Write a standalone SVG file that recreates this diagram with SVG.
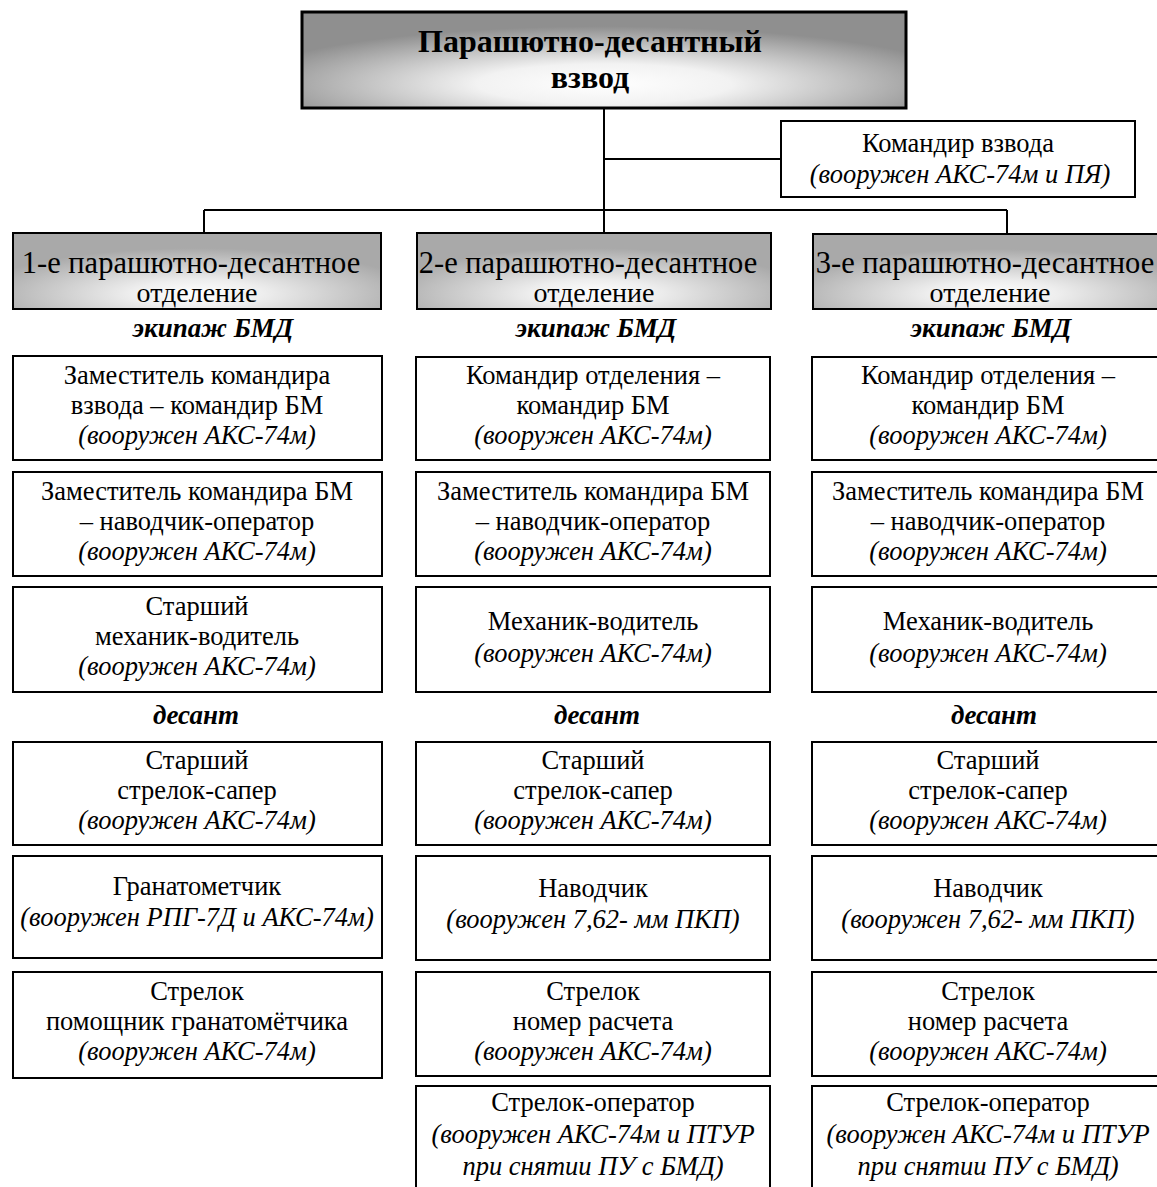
<svg xmlns="http://www.w3.org/2000/svg" width="1157" height="1187" viewBox="0 0 1157 1187">
<defs>
<radialGradient id="gTop" cx="50%" cy="75%" r="60%">
<stop offset="0" stop-color="#ffffff"/>
<stop offset="0.35" stop-color="#f2f2f2"/>
<stop offset="1" stop-color="#8f8f8f"/>
</radialGradient>
<radialGradient id="gHead" cx="50%" cy="80%" r="60%">
<stop offset="0" stop-color="#ffffff"/>
<stop offset="0.3" stop-color="#eeeeee"/>
<stop offset="1" stop-color="#a9a9a9"/>
</radialGradient>
</defs>
<style>
text{font-family:"Liberation Serif","Times New Roman",serif;fill:#000;text-anchor:middle}
.b{font-size:26.5px}
.i{font-size:26.5px;font-style:italic}
.h{font-size:28px}
.h1{font-size:30.5px}
.t{font-size:32px;font-weight:bold}
.s{font-size:27px;font-weight:bold;font-style:italic}
.box{fill:#fff;stroke:#000;stroke-width:2}
.head{fill:url(#gHead);stroke:#000;stroke-width:2}
.top{fill:url(#gTop);stroke:#000;stroke-width:3}
.conn{fill:none;stroke:#000;stroke-width:2}
</style>
<rect width="1157" height="1187" fill="#fff"/>
<g id="connectors">
<path class="conn" d="M604 108V233M604 159H781M204 210H1007M204 210V233M1007 210V234"/>
</g>
<g id="n-platoon">
<rect class="top" x="302" y="12" width="604" height="96"/>
<text class="t" x="590" y="52">Парашютно-десантный</text>
<text class="t" x="590" y="88">взвод</text>
</g>
<g id="n-commander">
<rect class="box" x="781" y="121" width="354" height="76"/>
<text class="b" x="958" y="152">Командир взвода</text>
<text class="i" x="960" y="183">(вооружен АКС-74м и ПЯ)</text>
</g>
<g id="n-sq1">
<rect class="head" x="13" y="233" width="368" height="76"/>
<text class="h1" x="191" y="273">1-е парашютно-десантное</text>
<text class="h" x="197" y="302">отделение</text>
</g>
<g id="n-sq2">
<rect class="head" x="417" y="233" width="354" height="76"/>
<text class="h1" x="588" y="273">2-е парашютно-десантное</text>
<text class="h" x="594" y="302">отделение</text>
</g>
<g id="n-sq3">
<rect class="head" x="813" y="234" width="360" height="75"/>
<text class="h1" x="985" y="273">3-е парашютно-десантное</text>
<text class="h" x="990" y="302">отделение</text>
</g>
<g id="labels">
<text class="s" x="213" y="337">экипаж БМД</text>
<text class="s" x="596" y="337">экипаж БМД</text>
<text class="s" x="991" y="337">экипаж БМД</text>
<text class="s" x="196" y="724">десант</text>
<text class="s" x="597" y="724">десант</text>
<text class="s" x="994" y="724">десант</text>
</g>
<g id="n-1-1">
<rect class="box" x="13" y="356" width="369" height="104"/>
<text class="b" x="197" y="384">Заместитель командира</text>
<text class="b" x="197" y="414">взвода – командир БМ</text>
<text class="i" x="197" y="444">(вооружен АКС-74м)</text>
</g>
<g id="n-1-2">
<rect class="box" x="13" y="472" width="369" height="104"/>
<text class="b" x="197" y="500">Заместитель командира БМ</text>
<text class="b" x="197" y="530">– наводчик-оператор</text>
<text class="i" x="197" y="560">(вооружен АКС-74м)</text>
</g>
<g id="n-1-3">
<rect class="box" x="13" y="587" width="369" height="105"/>
<text class="b" x="197" y="615">Старший</text>
<text class="b" x="197" y="645">механик-водитель</text>
<text class="i" x="197" y="675">(вооружен АКС-74м)</text>
</g>
<g id="n-1-4">
<rect class="box" x="13" y="742" width="369" height="103"/>
<text class="b" x="197" y="769">Старший</text>
<text class="b" x="197" y="799">стрелок-сапер</text>
<text class="i" x="197" y="829">(вооружен АКС-74м)</text>
</g>
<g id="n-1-5">
<rect class="box" x="13" y="856" width="369" height="102"/>
<text class="b" x="197" y="895">Гранатометчик</text>
<text class="i" x="197" y="926">(вооружен РПГ-7Д и АКС-74м)</text>
</g>
<g id="n-1-6">
<rect class="box" x="13" y="972" width="369" height="106"/>
<text class="b" x="197" y="1000">Стрелок</text>
<text class="b" x="197" y="1030">помощник гранатомётчика</text>
<text class="i" x="197" y="1060">(вооружен АКС-74м)</text>
</g>
<g id="n-2-1">
<rect class="box" x="416" y="357" width="354" height="103"/>
<text class="b" x="593" y="384">Командир отделения –</text>
<text class="b" x="593" y="414">командир БМ</text>
<text class="i" x="593" y="444">(вооружен АКС-74м)</text>
</g>
<g id="n-2-2">
<rect class="box" x="416" y="472" width="354" height="104"/>
<text class="b" x="593" y="500">Заместитель командира БМ</text>
<text class="b" x="593" y="530">– наводчик-оператор</text>
<text class="i" x="593" y="560">(вооружен АКС-74м)</text>
</g>
<g id="n-2-3">
<rect class="box" x="416" y="587" width="354" height="105"/>
<text class="b" x="593" y="630">Механик-водитель</text>
<text class="i" x="593" y="662">(вооружен АКС-74м)</text>
</g>
<g id="n-2-4">
<rect class="box" x="416" y="742" width="354" height="103"/>
<text class="b" x="593" y="769">Старший</text>
<text class="b" x="593" y="799">стрелок-сапер</text>
<text class="i" x="593" y="829">(вооружен АКС-74м)</text>
</g>
<g id="n-2-5">
<rect class="box" x="416" y="856" width="354" height="104"/>
<text class="b" x="593" y="897">Наводчик</text>
<text class="i" x="593" y="928">(вооружен 7,62- мм ПКП)</text>
</g>
<g id="n-2-6">
<rect class="box" x="416" y="972" width="354" height="104"/>
<text class="b" x="593" y="1000">Стрелок</text>
<text class="b" x="593" y="1030">номер расчета</text>
<text class="i" x="593" y="1060">(вооружен АКС-74м)</text>
</g>
<g id="n-2-7">
<rect class="box" x="416" y="1086" width="354" height="110"/>
<text class="b" x="593" y="1111">Стрелок-оператор</text>
<text class="i" x="593" y="1143">(вооружен АКС-74м и ПТУР</text>
<text class="i" x="593" y="1175">при снятии ПУ с БМД)</text>
</g>
<g id="n-3-1">
<rect class="box" x="812" y="357" width="354" height="103"/>
<text class="b" x="988" y="384">Командир отделения –</text>
<text class="b" x="988" y="414">командир БМ</text>
<text class="i" x="988" y="444">(вооружен АКС-74м)</text>
</g>
<g id="n-3-2">
<rect class="box" x="812" y="472" width="354" height="104"/>
<text class="b" x="988" y="500">Заместитель командира БМ</text>
<text class="b" x="988" y="530">– наводчик-оператор</text>
<text class="i" x="988" y="560">(вооружен АКС-74м)</text>
</g>
<g id="n-3-3">
<rect class="box" x="812" y="587" width="354" height="105"/>
<text class="b" x="988" y="630">Механик-водитель</text>
<text class="i" x="988" y="662">(вооружен АКС-74м)</text>
</g>
<g id="n-3-4">
<rect class="box" x="812" y="742" width="354" height="103"/>
<text class="b" x="988" y="769">Старший</text>
<text class="b" x="988" y="799">стрелок-сапер</text>
<text class="i" x="988" y="829">(вооружен АКС-74м)</text>
</g>
<g id="n-3-5">
<rect class="box" x="812" y="856" width="354" height="104"/>
<text class="b" x="988" y="897">Наводчик</text>
<text class="i" x="988" y="928">(вооружен 7,62- мм ПКП)</text>
</g>
<g id="n-3-6">
<rect class="box" x="812" y="972" width="354" height="104"/>
<text class="b" x="988" y="1000">Стрелок</text>
<text class="b" x="988" y="1030">номер расчета</text>
<text class="i" x="988" y="1060">(вооружен АКС-74м)</text>
</g>
<g id="n-3-7">
<rect class="box" x="812" y="1086" width="354" height="110"/>
<text class="b" x="988" y="1111">Стрелок-оператор</text>
<text class="i" x="988" y="1143">(вооружен АКС-74м и ПТУР</text>
<text class="i" x="988" y="1175">при снятии ПУ с БМД)</text>
</g>
</svg>
